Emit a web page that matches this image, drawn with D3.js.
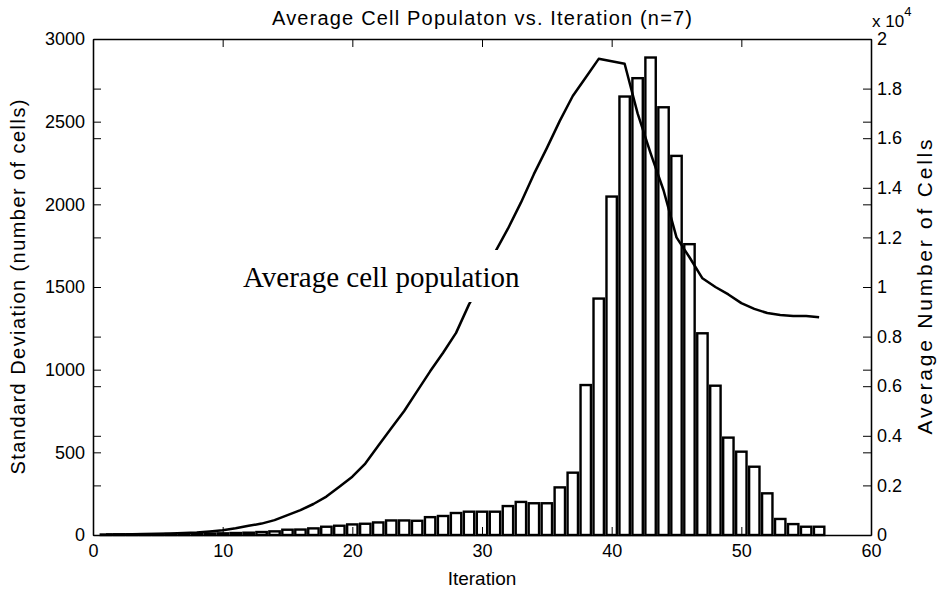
<!DOCTYPE html>
<html>
<head>
<meta charset="utf-8">
<script src="https://cdn.jsdelivr.net/npm/d3@7"></script>
<style>
  html, body { margin: 0; padding: 0; background: #fff; }
  svg { display: block; }
</style>
</head>
<body>
<svg id="chart" width="938" height="598"></svg>
<script>
// Iterations 1..56
const iterations = d3.range(1, 57);

// Standard deviation of the cell count per iteration (left axis, bars)
const stdDev = [
  3, 4, 4, 5, 5, 6, 7, 8, 9, 10,
  12, 14, 18, 22, 32, 33, 40, 50, 56, 64,
  68, 76, 88, 88, 86, 108, 115, 133, 141, 141,
  141, 175, 200, 192, 192, 288, 377, 907, 1430, 2047,
  2652, 2763, 2888, 2587, 2293, 1759, 1220, 903, 589, 504,
  413, 252, 97, 66, 50, 50
];

// Average number of cells per iteration (right axis, line)
const avgCells = [
  20, 25, 30, 40, 50, 60, 80, 100, 140, 190,
  270, 370, 460, 600, 800, 1000, 1250, 1550, 1950, 2350,
  2880, 3600, 4300, 5000, 5800, 6600, 7350, 8150, 9300, 10250,
  11400, 12350, 13400, 14550, 15600, 16700, 17700, 18450, 19200, 19100,
  19000, 17000, 15400, 13900, 12000, 11200, 10350, 10000, 9700, 9350,
  9120, 8950, 8870, 8830, 8830, 8780
];

const xTicks = [0, 10, 20, 30, 40, 50, 60];
const leftTicks = [0, 500, 1000, 1500, 2000, 2500, 3000];
const rightTicks = [0, 2000, 4000, 6000, 8000, 10000, 12000, 14000, 16000, 18000, 20000];

const titleText = "Average Cell Populaton vs. Iteration (n=7)";
const xLabel = "Iteration";
const leftLabel = "Standard Deviation (number of cells)";
const rightLabel = "Average Number of Cells";
const annotation = "Average cell population";

// Plot box
const L = 93, R = 871, T = 39, B = 535;
const tick = 8;
const sansFont = "'Liberation Sans', Arial, Helvetica, sans-serif";

const svg = d3.select("#chart");

const x = d3.scaleLinear().domain([0, 60]).range([L, R]);
const yL = d3.scaleLinear().domain([0, 3000]).range([B, T]);
const yR = d3.scaleLinear().domain([0, 20000]).range([B, T]);

// Bars (white with black outline, width 0.8 of an iteration)
const barW = x(0.8) - x(0);
svg.append("g")
  .selectAll("rect")
  .data(iterations)
  .join("rect")
  .attr("x", (d) => x(d) - barW / 2)
  .attr("y", (d, i) => yL(stdDev[i]))
  .attr("width", barW)
  .attr("height", (d, i) => yL(0) - yL(stdDev[i]))
  .attr("fill", "#fff")
  .attr("stroke", "#000")
  .attr("stroke-width", 2.4);

// Average population line
const line = d3.line()
  .x((d) => x(d))
  .y((d, i) => yR(avgCells[i]));
svg.append("path")
  .datum(iterations)
  .attr("d", line)
  .attr("fill", "none")
  .attr("stroke", "#000")
  .attr("stroke-width", 2.5)
  .attr("stroke-linejoin", "round");

// In-plot annotation with white background
const ann = svg.append("g");
const annRect = ann.append("rect").attr("fill", "#fff");
const annText = ann.append("text")
  .attr("x", 243)
  .attr("y", 287)
  .attr("font-family", "'Liberation Serif', 'Times New Roman', serif")
  .attr("font-size", 29)
  .attr("fill", "#000")
  .text(annotation);
const bb = annText.node().getBBox();
annRect.attr("x", bb.x - 4).attr("y", 250)
  .attr("width", bb.width + 8).attr("height", 52);

// Axes: ticks point inward on all four sides
const fmtR = (v) => d3.format("~g")(v / 10000);
const fmtL = d3.format("d");

function styleAxis(g) {
  g.selectAll("path.domain").attr("stroke", "#000").attr("stroke-width", 1.3);
  g.selectAll(".tick line").attr("stroke", "#000").attr("stroke-width", 1);
  g.selectAll("text").attr("font-size", 18).attr("fill", "#000")
    .attr("font-family", sansFont);
}

svg.append("g").attr("transform", `translate(0,${B})`)
  .call(d3.axisBottom(x).tickValues(xTicks).tickSizeInner(-tick).tickSizeOuter(0).tickPadding(9))
  .call(styleAxis);
svg.append("g").attr("transform", `translate(0,${T})`)
  .call(d3.axisTop(x).tickValues(xTicks).tickSizeInner(-tick).tickSizeOuter(0).tickFormat(""))
  .call(styleAxis);
svg.append("g").attr("transform", `translate(${L},0)`)
  .call(d3.axisLeft(yL).tickValues(leftTicks).tickSizeInner(-tick).tickSizeOuter(0).tickPadding(8).tickFormat(fmtL))
  .call(styleAxis);
svg.append("g").attr("transform", `translate(${R},0)`)
  .call(d3.axisRight(yL).tickValues(leftTicks).tickSizeInner(-tick).tickSizeOuter(0).tickFormat(""))
  .call(styleAxis);
svg.append("g").attr("transform", `translate(${R},0)`)
  .call(d3.axisRight(yR).tickValues(rightTicks).tickSizeInner(-tick).tickSizeOuter(0).tickPadding(6).tickFormat(fmtR))
  .call(styleAxis);
svg.append("g").attr("transform", `translate(${L},0)`)
  .call(d3.axisLeft(yR).tickValues(rightTicks).tickSizeInner(-tick).tickSizeOuter(0).tickFormat(""))
  .call(styleAxis);

// Exponent marker for the right axis
const expo = svg.append("text")
  .attr("x", 872).attr("y", 27)
  .attr("font-family", sansFont)
  .attr("font-size", 17).attr("fill", "#000");
expo.append("tspan").text("x 10");
expo.append("tspan").attr("dy", -11).attr("font-size", 13).text("4");

// Titles
svg.append("text")
  .attr("x", (L + R) / 2).attr("y", 25)
  .attr("text-anchor", "middle")
  .attr("font-family", sansFont).attr("font-size", 20)
  .attr("textLength", 420)
  .text(titleText);
svg.append("text")
  .attr("x", (L + R) / 2).attr("y", 585)
  .attr("text-anchor", "middle")
  .attr("font-family", sansFont).attr("font-size", 19)
  .text(xLabel);
svg.append("text")
  .attr("transform", `translate(25,${(T + B) / 2}) rotate(-90)`)
  .attr("text-anchor", "middle")
  .attr("font-family", sansFont).attr("font-size", 20)
  .attr("textLength", 375)
  .text(leftLabel);
svg.append("text")
  .attr("transform", `translate(932,${(T + B) / 2}) rotate(-90)`)
  .attr("text-anchor", "middle")
  .attr("font-family", sansFont).attr("font-size", 21)
  .attr("textLength", 295)
  .text(rightLabel);
</script>
</body>
</html>
